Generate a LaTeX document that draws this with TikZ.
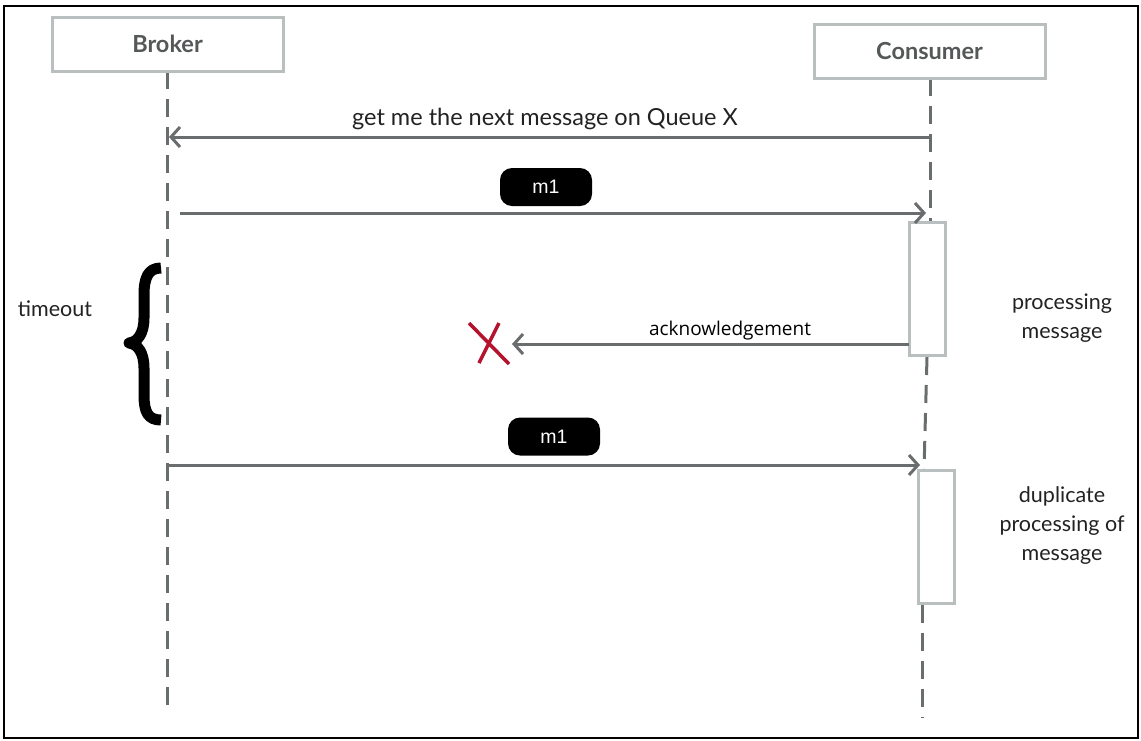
\documentclass[tikz,border=0pt]{standalone}
\usepackage{fontspec}
\setmainfont{Lato}
\newfontfamily\ackfont{Open Sans}
\newfontfamily\pillfont{Liberation Sans}
\usetikzlibrary{arrows.meta}
\definecolor{linegray}{HTML}{6A6D6D}
\definecolor{boxgray}{HTML}{B9BEBE}
\definecolor{headtext}{HTML}{555858}
\definecolor{labeltext}{HTML}{222222}
\definecolor{xred}{HTML}{B5122E}
\tikzset{
  head/.style={draw=boxgray, line width=3pt, fill=white, minimum width=231pt, minimum height=54pt, inner sep=0pt,
    font=\fontsize{23.5}{26}\selectfont\bfseries, text=headtext},
  life/.style={draw=linegray, line width=3pt, dash pattern=on 18pt off 10pt},
  msg/.style={draw=linegray, line width=3pt, -{Straight Barb[length=9pt,width=20pt]}},
  actbox/.style={draw=boxgray, line width=3pt, fill=white, minimum width=36pt, minimum height=133pt, inner sep=0pt},
  pill/.style={fill=black, rounded corners=12pt, minimum width=92pt, minimum height=38pt, inner sep=0pt,
    text=white, font=\pillfont\fontsize{19.5}{21}\selectfont},
  lbl/.style={text=labeltext, font=\fontsize{21.5}{29}\selectfont, align=center, inner sep=0pt},
}
\begin{document}
\begin{tikzpicture}[x=1pt,y=-1pt]
\useasboundingbox (0,0) rectangle (1141,740);
\draw[black, line width=2.5pt] (4,6) rectangle (1138,738);

% lifelines
\coordinate (bt) at (167,71);
\coordinate (bb) at (167,712);
\coordinate (ct) at (930,78);
\coordinate (cb) at (922,718);
\draw[life] (bt) -- (bb);
\draw[life] (ct) -- (930,222);
\draw[life] (927,357) -- (924,470);
\draw[life] (922,605) -- (cb);

% heads
\node[head] (broker) at (167.5,44) {Broker};
\node[head] (consumer) at (929.5,51) {Consumer};

% activation boxes
\node[actbox] (act1) at (927,288.5) {};
\node[actbox] (act2) at (936,536.5) {};

% messages
\coordinate (m1s) at (930,137);
\coordinate (m1e) at (169,137);
\draw[msg] (m1s) -- (m1e);
\node[lbl, font=\fontsize{23.5}{29}\selectfont] (l1) at (545,118.5) {get me the next message on Queue X};

\coordinate (m2s) at (180,213);
\coordinate (m2e) at (926,213);
\draw[msg] (m2s) -- (m2e);
\node[pill] (p1) at (546,187) {m1};

\coordinate (m3s) at (909,344);
\coordinate (m3e) at (512,344);
\draw[msg] (m3s) -- (m3e);
\node[text=black, font=\ackfont\fontsize{19}{21}\selectfont, inner sep=0pt] (l3) at (730,330.5) {acknowledgement};

\coordinate (m4s) at (167,465);
\coordinate (m4e) at (920,465);
\draw[msg] (m4s) -- (m4e);
\node[pill] (p2) at (554,436.5) {m1};

% red cross
\coordinate (xc) at (489,343);
\draw[xred, line width=3.5pt] (469,323) -- (509,364) (499,323) -- (479,363);

% brace
\draw[black, line width=11pt, line join=round] (161,268) .. controls (148,268) and (144,278) .. (144,295) -- (144,318)
  .. controls (144,333) and (138,342) .. (129,343) .. controls (138,344) and (144,353) .. (144,368)
  -- (144,395) .. controls (144,412) and (148,420) .. (161,420);

% side labels
\node[lbl] (timeout) at (55,309) {timeout};
\node[lbl] (proc) at (1062,318) {processing\\message};
\node[lbl] (dup) at (1062,526) {duplicate\\processing of\\message};
\end{tikzpicture}
\end{document}
